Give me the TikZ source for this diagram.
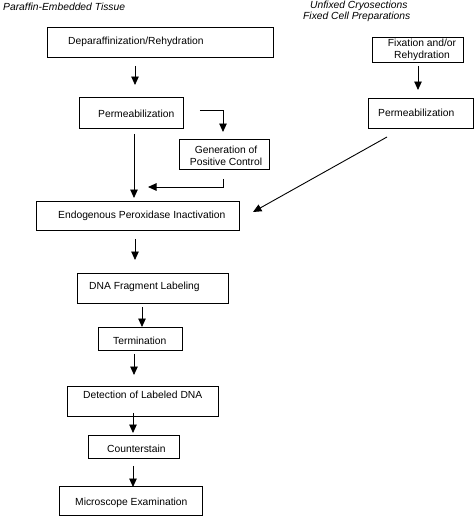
\documentclass[tikz,border=0pt]{standalone}
\usepackage{fontspec}
\setmainfont{Liberation Sans}
\usetikzlibrary{arrows.meta}
\begin{document}
\begin{tikzpicture}[x=1pt,y=-1pt,
  box/.style={draw,line width=0.9pt,inner sep=0pt,anchor=north west},
  lbl/.style={font=\fontsize{10.3}{12.5}\selectfont,inner sep=0pt,anchor=west},
  clbl/.style={font=\fontsize{10.3}{12}\selectfont,inner sep=0pt,align=center},
  ttl/.style={font=\fontsize{10.3}{11.5}\selectfont\itshape,inner sep=0pt,anchor=west},
  arr/.style={line width=0.9pt,-{Triangle[length=8.5pt,width=7.5pt]}}]
\useasboundingbox (0,0) rectangle (476,519);

% titles
\node[ttl] (t1) at (3,7) {Paraffin-Embedded Tissue};
\node[ttl] (t2) at (310,6) {Unfixed Cryosections};
\node[ttl] (t3) at (303,17) {Fixed Cell Preparations};

% boxes
\node[box,minimum width=226pt,minimum height=30pt] (dep) at (47,27) {};
\node[box,minimum width=104pt,minimum height=31pt] (perm1) at (79,97) {};
\node[box,minimum width=90pt,minimum height=30pt] (gen) at (179,139) {};
\node[box,minimum width=203pt,minimum height=29pt] (endo) at (36,201) {};
\node[box,minimum width=151pt,minimum height=30pt] (dna) at (77,273) {};
\node[box,minimum width=84pt,minimum height=23pt] (term) at (98,327) {};
\node[box,minimum width=151pt,minimum height=30pt] (det) at (67,386) {};
\node[box,minimum width=91pt,minimum height=23pt] (count) at (88,435) {};
\node[box,minimum width=143pt,minimum height=29pt] (micro) at (59,486) {};
\node[box,minimum width=91pt,minimum height=25pt] (fix) at (372,37) {};
\node[box,minimum width=105pt,minimum height=30pt] (perm2) at (368,98) {};

% labels
\node[lbl] (ldep) at (68,42) {Deparaffinization/Rehydration};
\node[lbl] (lperm1) at (98,114) {Permeabilization};
\node[clbl] (lgen) at (226,155.5) {Generation of\\Positive Control};
\node[lbl] (lendo) at (58,216) {Endogenous Peroxidase Inactivation};
\node[lbl] (ldna) at (89,287) {DNA Fragment Labeling};
\node[lbl] (lterm) at (113,341) {Termination};
\node[lbl] (ldet) at (83,395) {Detection of Labeled DNA};
\node[lbl] (lcount) at (107,449) {Counterstain};
\node[lbl] (lmicro) at (75,503) {Microscope Examination};
\node[clbl] (lfix) at (422,49.5) {Fixation and/or\\Rehydration};
\node[lbl] (lperm2) at (378,113) {Permeabilization};

% connectors
\coordinate (j1) at (148,187);
\coordinate (d1) at (387,137);
\coordinate (d2) at (253,212);

\draw[arr,shorten <=8pt,shorten >=12pt] (dep.south -| 135,0) -- (perm1.north -| 135,0);
\draw[arr,shorten <=5pt,shorten >=3pt] (perm1.south -| 134,0) -- (endo.north -| 134,0);
\draw[arr,shorten <=16pt,shorten >=7pt] (perm1.east |- 0,110) -| (gen.north -| 223,0);
\draw[arr,shorten <=9pt] (gen.south -| 223,0) |- (j1);
\draw[arr] (d1) -- (d2);
\draw[arr,shorten <=8pt,shorten >=13pt] (endo.south -| 135,0) -- (dna.north -| 135,0);
\draw[arr,shorten <=3pt,shorten >=0pt] (dna.south -| 142,0) -- (term.north -| 142,0);
\draw[arr,shorten <=3pt,shorten >=11pt] (term.south -| 134,0) -- (det.north -| 134,0);
\draw[arr,shorten <=-4pt,shorten >=2pt] (det.south -| 133,0) -- (count.north -| 133,0);
\draw[arr,shorten <=7pt,shorten >=-1pt] (count.south -| 133,0) -- (micro.north -| 133,0);
\draw[arr,shorten <=3pt,shorten >=8pt] (fix.south -| 418,0) -- (perm2.north -| 418,0);
\end{tikzpicture}
\end{document}
